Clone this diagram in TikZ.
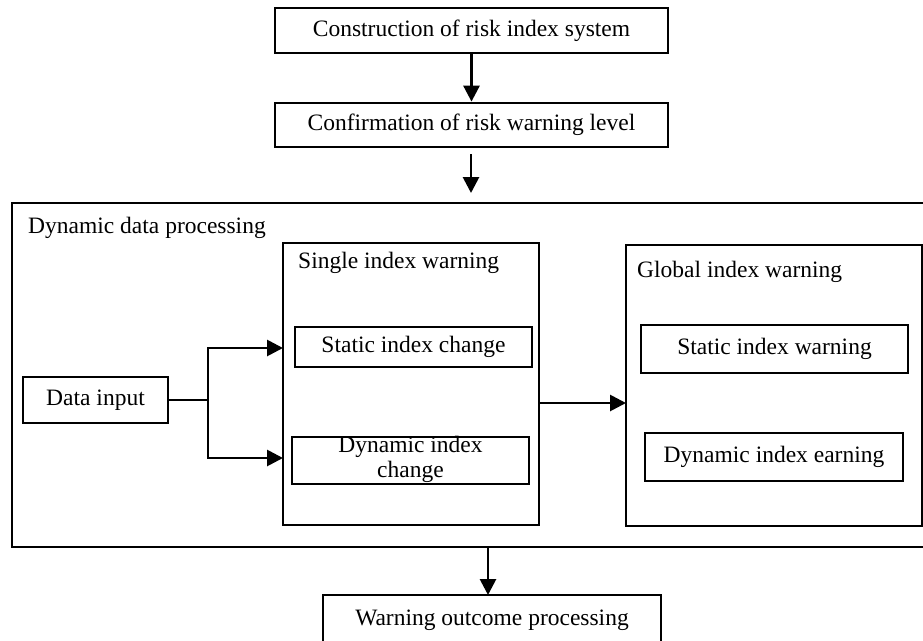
\documentclass[tikz,border=0pt]{standalone}
\usepackage{fontspec}
\setmainfont{Liberation Serif}
\usetikzlibrary{arrows.meta}
\begin{document}
\begin{tikzpicture}[x=1pt,y=-1pt,
  box/.style={draw=black,line width=2.8pt,rectangle,inner sep=0pt,anchor=center},
  lbl/.style={inner sep=0pt,anchor=base west},
  arr/.style={line width=2.8pt,-{Triangle[length=16pt,width=16pt]}},
  ln/.style={line width=2.8pt},
  every node/.style={font=\fontsize{23.5}{25}\selectfont}]
\clip (0,0) rectangle (923,640);
\fill[white] (0,0) rectangle (923,640);
% top boxes
\node[box,minimum width=393pt,minimum height=45pt] (top) at (471.5,30.5) {Construction of risk index system};
\node[box,minimum width=393pt,minimum height=44pt] (conf) at (471.5,125) {Confirmation of risk warning level};
% big container
\node[box,minimum width=930pt,minimum height=344pt] (big) at (477,375) {};
\node[lbl] (bigl) at (28,233) {Dynamic data processing};
% single index warning
\node[box,minimum width=256pt,minimum height=282pt] (single) at (411,384) {};
\node[lbl] (singlel) at (298,268) {Single index warning};
\node[box,minimum width=237pt,minimum height=40pt] (sic) at (413.5,347) {Static index change};
\node[box,minimum width=237pt,minimum height=47pt] (dic) at (410.5,460.5) {};
\node[inner sep=0pt,anchor=base] (dict1) at (410.5,452) {Dynamic index};
\node[inner sep=0pt,anchor=base] (dict2) at (410.5,477) {change};
% global index warning
\node[box,minimum width=296pt,minimum height=281pt] (global) at (774,385.5) {};
\node[lbl] (globall) at (637,277) {Global index warning};
\node[box,minimum width=267pt,minimum height=48pt] (siw) at (774.5,349) {Static index warning};
\node[box,minimum width=258pt,minimum height=48pt] (diw) at (774,457) {Dynamic index earning};
% data input
\node[box,minimum width=145pt,minimum height=46pt] (data) at (95.5,400) {Data input};
% bottom
\node[box,minimum width=338pt,minimum height=50pt] (out) at (492,620) {Warning outcome processing};
% coordinates
\coordinate (a1) at (471,154);
\coordinate (a2) at (471,193);
\coordinate (br) at (208,400);
\coordinate (u1) at (283,348);
\coordinate (u2) at (283,458);
\coordinate (m1) at (539,403);
\coordinate (m2) at (626,403);
\coordinate (b1) at (488,547);
\coordinate (b2) at (488,595);
% connectors
\draw[arr] (top) -- (conf);
\draw[arr] (a1) -- (a2);
\draw[ln] (data.east) -- (br);
\draw[arr] (br) |- (u1);
\draw[arr] (br) |- (u2);
\draw[arr] (m1) -- (m2);
\draw[arr] (b1) -- (b2);
\end{tikzpicture}
\end{document}
